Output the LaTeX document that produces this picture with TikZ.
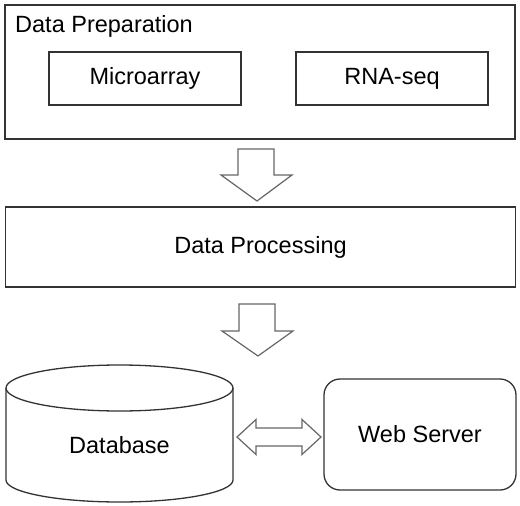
\documentclass[tikz,border=0pt]{standalone}
\usepackage{fontspec}
\setmainfont{Liberation Sans}
\begin{document}
\begin{tikzpicture}[x=1pt,y=-1pt,
  line/.style={draw=black!80, line width=1.3pt},
  box/.style={line, rectangle, inner sep=0pt, font=\fontsize{23.5}{28}\selectfont},
  blockarrow/.style={draw=black!60, line width=1.2pt, fill=white, line join=miter}]
\useasboundingbox (0,0) rectangle (520,506);
% Data Preparation
\node[box, minimum width=510pt, minimum height=134pt] (prep) at (260,72) {};
\node[anchor=base west, inner sep=0pt, font=\fontsize{23.5}{28}\selectfont] (preplabel) at (15,32) {Data Preparation};
\node[box, minimum width=192pt, minimum height=53pt] (micro) at (145,78.5) {Microarray};
\node[box, minimum width=192pt, minimum height=53pt] (rna) at (392,78.5) {RNA-seq};
% Data Processing
\node[box, minimum width=510pt, minimum height=80pt] (proc) at (260.5,247) {Data Processing};
% arrow 1
\draw[blockarrow] (238,149) -- (274,149) -- (274,175) -- (292,175) -- (257,201) -- (221,175) -- (238,175) -- cycle;
% arrow 2
\draw[blockarrow] (239,304) -- (275,304) -- (275,331) -- (293,331) -- (258,356) -- (222,331) -- (239,331) -- cycle;
% Database cylinder
\draw[line] (6,388) -- (6,480) arc[start angle=180, end angle=360, x radius=113.5pt, y radius=22pt] -- (233,388);
\draw[line] (119.5,388) ellipse[x radius=113.5pt, y radius=23pt];
\node[font=\fontsize{23.5}{28}\selectfont, inner sep=0pt] (db) at (119.5,445) {Database};
% Web Server
\node[box, rounded corners=16pt, minimum width=192pt, minimum height=111pt] (web) at (420,434.5) {Web Server};
% double arrow
\draw[blockarrow] (237,437) -- (256,419.5) -- (256,428) -- (302,428) -- (302,419.5) -- (321,437) -- (302,454.5) -- (302,446) -- (256,446) -- (256,454.5) -- cycle;
\end{tikzpicture}
\end{document}
